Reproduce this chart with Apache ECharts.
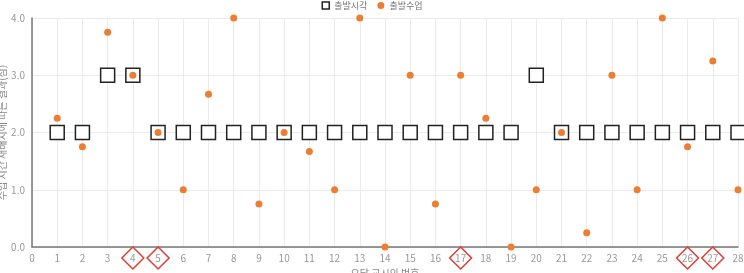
<!DOCTYPE html>
<html>
<head>
<meta charset="utf-8">
<script src="https://cdn.jsdelivr.net/npm/echarts@6/dist/echarts.min.js"></script>
<style>
  html, body { margin: 0; padding: 0; background: #fff; }
  #chart { width: 744px; height: 273px; }
</style>
</head>
<body>
<div id="chart"></div>
<script>
// 교시 번호
const periods = [1, 2, 3, 4, 5, 6, 7, 8, 9, 10, 11, 12, 13, 14, 15, 16, 17, 18, 19, 20, 21, 22, 23, 24, 25, 26, 27, 28]
// 출발시각 (사각형)
const startValues = [2, 2, 3, 3, 2, 2, 2, 2, 2, 2, 2, 2, 2, 2, 2, 2, 2, 2, 2, 3, 2, 2, 2, 2, 2, 2, 2, 2]
// 출발수업 (주황 점)
const classValues = [2.25, 1.75, 3.75, 3, 2, 1, 2.67, 4, 0.75, 2, 1.67, 1, 4, 0, 3, 0.75, 3, 2.25, 0, 1, 2, 0.25, 3, 1, 4, 1.75, 3.25, 1]
// 강조 표시된 교시
const markedPeriods = [4, 5, 17, 26, 27]

const chart = echarts.init(document.getElementById('chart'))
const font = '"Noto Sans CJK KR", "Open Sans", sans-serif'

const option = {
  animation: false,
  textStyle: { fontFamily: font },
  legend: {
    top: -4,
    left: 'center',
    itemWidth: 7,
    itemHeight: 7,
    itemGap: 10,
    textStyle: { fontSize: 9, color: '#777' },
    data: [
      { name: '출발시각', icon: 'rect', itemStyle: { color: '#fff', borderColor: '#222', borderWidth: 1.5 } },
      { name: '출발수업', icon: 'circle' }
    ]
  },
  grid: { left: 32, right: 6, top: 18, bottom: 26, outerBoundsMode: 'none', containLabel: false },
  xAxis: {
    type: 'value',
    min: 0,
    max: 28,
    interval: 1,
    name: '오답 교시의 번호',
    nameLocation: 'middle',
    nameGap: 21,
    nameMoveOverlap: false,
    nameTextStyle: { fontSize: 10, color: '#888' },
    axisLine: { lineStyle: { color: '#777', width: 1.5 } },
    axisTick: { show: false },
    axisLabel: { fontSize: 10, color: '#999', margin: 6 },
    splitLine: { show: true, lineStyle: { color: '#ebebeb' } }
  },
  yAxis: {
    type: 'value',
    min: 0,
    max: 4,
    interval: 1,
    name: '수업 시간 재배치에 따른 결과(점)',
    nameLocation: 'middle',
    nameGap: 25,
    nameMoveOverlap: false,
    nameTextStyle: { fontSize: 10, color: '#888' },
    axisLine: { show: true, lineStyle: { color: '#777', width: 1.5 } },
    axisTick: { show: false },
    axisLabel: { fontSize: 10, color: '#999', margin: 7, formatter: v => v.toFixed(1) },
    splitLine: { lineStyle: { color: '#ebebeb' } }
  },
  series: [
    {
      name: '출발시각',
      type: 'scatter',
      symbol: 'rect',
      symbolSize: 14,
      itemStyle: { color: '#fff', borderColor: '#222', borderWidth: 1.5, opacity: 1 },
      data: periods.map((p, i) => [p, startValues[i]]),
      clip: false,
      z: 2
    },
    {
      name: '출발수업',
      type: 'scatter',
      symbol: 'circle',
      symbolSize: 7,
      itemStyle: { color: '#ED7D31', opacity: 1 },
      data: periods.map((p, i) => [p, classValues[i]]),
      clip: false,
      z: 3
    },
    {
      name: '강조',
      type: 'scatter',
      symbol: 'diamond',
      symbolSize: 22,
      symbolOffset: [0, 11],
      clip: false,
      silent: true,
      itemStyle: { color: 'rgba(0,0,0,0)', borderColor: '#e03c31', borderWidth: 1.5, opacity: 1 },
      data: markedPeriods.map(p => [p, 0]),
      z: 1
    }
  ]
}

option && chart.setOption(option)
</script>
</body>
</html>
